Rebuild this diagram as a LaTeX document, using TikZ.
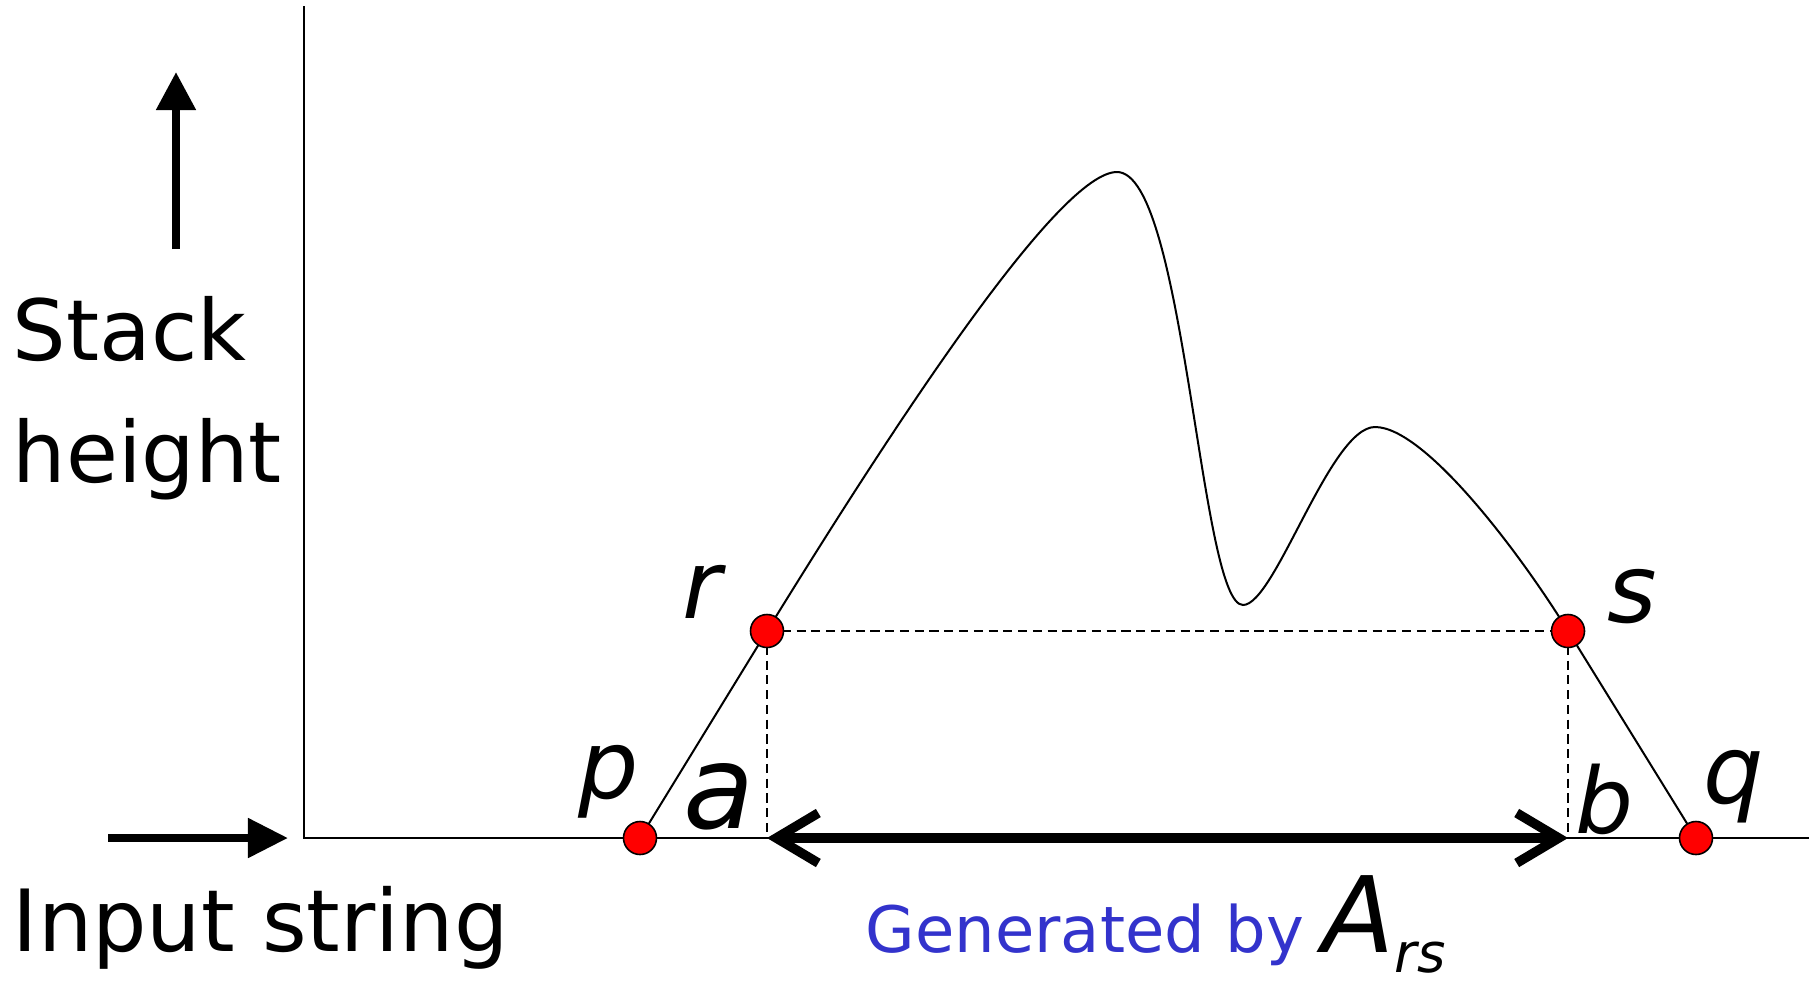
\documentclass[tikz,border=0pt]{standalone}
\usepackage{fontspec}
\setmainfont{DejaVu Sans}
\usetikzlibrary{arrows.meta}
\definecolor{genblue}{RGB}{51,51,204}
\begin{document}
\begin{tikzpicture}[x=0.01cm, y=-0.01cm,
    thin line/.style={line width=0.57pt},
    dash line/.style={line width=0.55pt, dash pattern=on 2.6pt off 1.6pt},
    dot/.style={circle, fill=red, draw=black, line width=0.45pt, inner sep=0pt, minimum size=0.33cm},
    lbl/.style={anchor=base west, inner sep=0pt, font=\fontsize{27}{30}\selectfont\itshape},
    big text/.style={anchor=base west, inner sep=0pt, font=\fontsize{24}{30}\selectfont}]
    \useasboundingbox (0,0) rectangle (1818,981);

    % Axes
    \coordinate (O) at (304,838);
    \coordinate (ytop) at (304,6);
    \coordinate (xend) at (1809,838);
    \draw[thin line] (ytop) -- (O) -- (xend);

    % Points on the run
    \coordinate (p) at (640,838);
    \coordinate (r) at (767,631);
    \coordinate (s) at (1568,631);
    \coordinate (q) at (1696,838);
    \coordinate (a0) at (r |- O);
    \coordinate (b0) at (s |- O);

    \draw[thin line] (p) -- (r);
    \draw[thin line] (s) -- (q);
    \draw[thin line] (r) .. controls (900,415) and (1060,172) .. (1117,172)
        .. controls (1185,172) and (1200,605) .. (1243,605)
        .. controls (1275,605) and (1330,427) .. (1375,427)
        .. controls (1425,427) and (1520,553) .. (s);

    \draw[dash line] (r) -- (s);
    \draw[dash line] (r) -- (a0);
    \draw[dash line] (s) -- (b0);

    % Span of A_rs
    \draw[line width=0.095cm, {Straight Barb[length=0.42cm,width=0.5cm]}-{Straight Barb[length=0.42cm,width=0.5cm]}] (a0) -- (b0);

    \node[dot] (pd) at (p) {};
    \node[dot] (rd) at (r) {};
    \node[dot] (sd) at (s) {};
    \node[dot] (qd) at (q) {};

    \node[lbl] (rl) at (682,618) {r};
    \node[lbl] (sl) at (1607,622) {s};
    \node[lbl] (pl) at (578,798) {p};
    \node[lbl] (ql) at (1703,803) {q};
    \node[lbl, font=\fontsize{33}{36}\selectfont\itshape] (al) at (683,828) {a};
    \node[lbl, font=\fontsize{26}{30}\selectfont\itshape] (bl) at (1575,833) {b};

    % Direction arrows
    \coordinate (up0) at (176,249);
    \coordinate (up1) at (176,72);
    \draw[line width=0.08cm, -{Triangle[length=0.38cm,width=0.38cm]}] (up0) -- (up1);
    \coordinate (rt0) at (108,838);
    \coordinate (rt1) at (288,838);
    \draw[line width=0.08cm, -{Triangle[length=0.4cm,width=0.38cm]}] (rt0) -- (rt1);

    \node[big text] (stack) at (12,360) {Stack};
    \node[big text] (height) at (12,482) {height};
    \node[big text, font=\fontsize{24.4}{30}\selectfont] (input) at (12,951) {Input string};

    \node[anchor=base west, inner sep=0pt, text=genblue, font=\fontsize{18.2}{20}\selectfont] (gen) at (865,952) {Generated by};
    \node[anchor=base west, inner sep=0pt, font=\fontsize{30}{32}\selectfont\itshape] (Ars) at (1322,952) {A\raisebox{-0.2cm}{\fontsize{15.5}{18}\selectfont rs}};
\end{tikzpicture}
\end{document}
